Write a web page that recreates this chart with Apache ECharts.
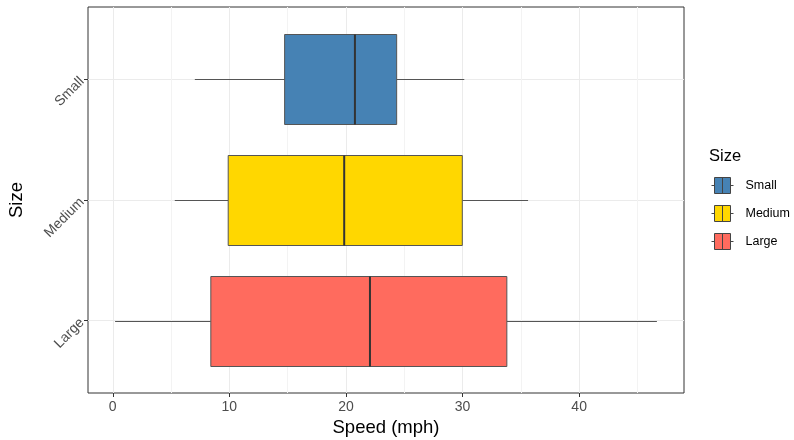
<!DOCTYPE html>
<html>
<head>
<meta charset="utf-8">
<script src="https://cdn.jsdelivr.net/npm/echarts@6/dist/echarts.min.js"></script>
<style>html,body{margin:0;padding:0;background:#fff}#chart{width:794px;height:440px}</style>
</head>
<body>
<div id="chart"></div>
<script>
// ---- data ----
const categories = ['Large', 'Medium', 'Small'];        // bottom to top
const colors = ['#FF6B5E', '#FFD700', '#4682B4'];
const whiskerLow = [0.2, 5.32, 7.04];
const q1 = [8.41, 9.9, 14.74];
const median = [22.06, 19.85, 20.77];
const q3 = [33.8, 29.98, 24.35];
const whiskerHigh = [46.67, 35.62, 30.15];
const xTicks = [0, 10, 20, 30, 40];
const xMinorTicks = [5, 15, 25, 35, 45];
const legendOrder = ['Small', 'Medium', 'Large'];

// ggplot-like 5% expansion of the continuous axis
const dMin = Math.min(...whiskerLow), dMax = Math.max(...whiskerHigh);
const xMin = dMin - 0.05 * (dMax - dMin), xMax = dMax + 0.05 * (dMax - dMin);

const FONT = 'Liberation Sans';
const BOX_W = 0.75;

function renderBox(params, api) {
  const y = api.value(0);
  const lo = api.coord([api.value(1), y]);
  const a = api.coord([api.value(2), y]);
  const m = api.coord([api.value(3), y]);
  const b = api.coord([api.value(4), y]);
  const hi = api.coord([api.value(5), y]);
  const h = api.size([0, BOX_W])[1];
  const cy = Math.round(lo[1]) + 0.5;
  const top = Math.round(cy - h / 2) + 0.5;
  const bh = Math.round(h);
  const fill = api.visual('color');
  const stroke = '#555555';
  return {
    type: 'group',
    children: [
      { type: 'line', shape: { x1: lo[0], y1: cy, x2: a[0], y2: cy }, style: { stroke: stroke, lineWidth: 1 } },
      { type: 'line', shape: { x1: b[0], y1: cy, x2: hi[0], y2: cy }, style: { stroke: stroke, lineWidth: 1 } },
      { type: 'rect', shape: { x: a[0], y: top, width: b[0] - a[0], height: bh }, style: { fill: fill, stroke: stroke, lineWidth: 1 } },
      { type: 'line', shape: { x1: m[0], y1: top, x2: m[0], y2: top + bh }, style: { stroke: '#333333', lineWidth: 2 } }
    ]
  };
}

const series = categories.map((name, i) => ({
  type: 'custom',
  name: name,
  xAxisIndex: 0,
  yAxisIndex: 0,
  itemStyle: { color: colors[i] },
  renderItem: renderBox,
  encode: { x: [1, 2, 3, 4, 5], y: 0 },
  data: [[i + 1, whiskerLow[i], q1[i], median[i], q3[i], whiskerHigh[i]]],
  z: 3
}));

const keyIcon = 'path://M0,8 L3,8 M3,0 L19,0 L19,16 L3,16 Z M11,0 L11,16 M19,8 L22,8';

const option = {
  animation: false,
  backgroundColor: '#ffffff',
  textStyle: { fontFamily: FONT },
  title: {
    text: 'Size',
    left: 709,
    top: 148,
    textStyle: { fontFamily: FONT, fontSize: 16.5, fontWeight: 'normal', color: '#000000' },
    padding: 0
  },
  legend: {
    orient: 'vertical',
    left: 711,
    top: 177,
    itemWidth: 22,
    itemHeight: 16,
    itemGap: 11,
    padding: 0,
    selectedMode: false,
    icon: keyIcon,
    textStyle: { fontFamily: FONT, fontSize: 12.5, color: '#000000', padding: [0, 0, 0, 7] },
    data: legendOrder.map(n => {
      const i = categories.indexOf(n);
      return { name: n, icon: keyIcon, itemStyle: { color: colors[i], borderColor: '#444444', borderWidth: 1 } };
    })
  },
  grid: {
    left: 88, top: 7, right: 110, bottom: 47,
    show: true,
    borderColor: '#333333',
    borderWidth: 1,
    containLabel: false,
    outerBoundsMode: 'none'
  },
  xAxis: [
    {
      type: 'value',
      min: xMin,
      max: xMax,
      name: 'Speed (mph)',
      nameLocation: 'middle',
      nameGap: 25,
      nameTextStyle: { fontFamily: FONT, fontSize: 18.5, color: '#000000' },
      axisLine: { show: false, onZero: false },
      axisTick: { show: true, length: 4, customValues: xTicks, lineStyle: { color: '#333333', width: 1 } },
      axisLabel: { customValues: xTicks, fontFamily: FONT, fontSize: 14, color: '#4D4D4D', margin: 7 },
      splitLine: { show: true, lineStyle: { color: '#EBEBEB', width: 1 } }
    },
    {
      type: 'value',
      min: xMin,
      max: xMax,
      position: 'top',
      axisLine: { show: false, onZero: false },
      axisTick: { show: false, customValues: xMinorTicks },
      axisLabel: { show: false, customValues: xMinorTicks },
      splitLine: { show: true, lineStyle: { color: '#F3F3F3', width: 1 } }
    }
  ],
  yAxis: {
    type: 'value',
    min: 0.4,
    max: 3.6,
    name: 'Size',
    nameLocation: 'middle',
    nameGap: 62,
    nameTextStyle: { fontFamily: FONT, fontSize: 18.5, color: '#000000' },
    axisLine: { show: false, onZero: false },
    axisTick: { show: true, length: 4, customValues: [1, 2, 3], lineStyle: { color: '#333333', width: 1 } },
    axisLabel: {
      customValues: [1, 2, 3],
      rotate: 45,
      margin: 6,
      fontFamily: FONT, fontSize: 14, color: '#4D4D4D',
      formatter: v => categories[Math.round(v) - 1] || ''
    },
    splitLine: { show: true, lineStyle: { color: '#EBEBEB', width: 1 } }
  },
  series: series
};

const chart = echarts.init(document.getElementById('chart'), null, { renderer: 'canvas' });
chart.setOption(option);
</script>
</body>
</html>
